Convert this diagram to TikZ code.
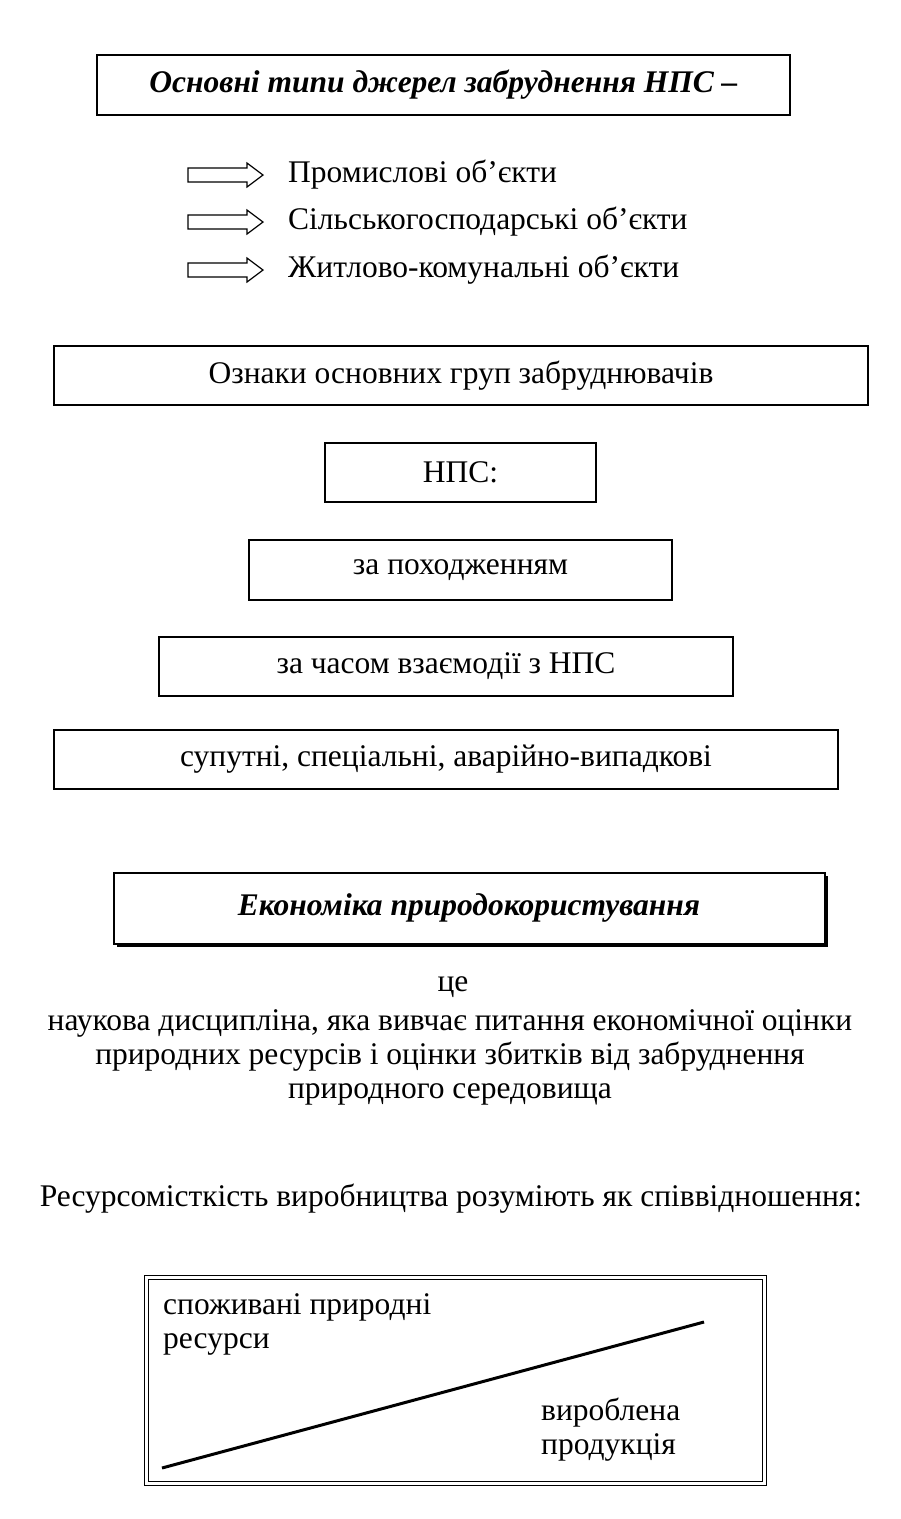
\documentclass[tikz,border=0pt]{standalone}
\usepackage{fontspec}
\setmainfont{Liberation Serif}
\usetikzlibrary{shadows}

\begin{document}
\begin{tikzpicture}[x=1pt,y=-1pt,
      txt/.style={font=\fontsize{31.5}{34}\selectfont,inner sep=0pt},
      frame/.style={txt,draw=black,line width=1.3pt,fill=white},
      hollow/.style={draw=black,line width=1.2pt,fill=white},
    ]
    \useasboundingbox (0,0) rectangle (901,1519);

    % sources
    \node[frame,minimum width=693,minimum height=60,font=\fontsize{31.5}{34}\selectfont\bfseries\itshape]
         (types) at (443.5,85) {Основні типи джерел забруднення НПС –};
    \foreach \yy/\nm/\lbl in {175/ind/Промислові об’єкти,
                              222/agr/Сільськогосподарські об’єкти,
                              270/hou/Житлово-комунальні об’єкти}{
      \draw[hollow] (188,{\yy-7}) -- (247,{\yy-7}) -- (247,{\yy-12}) -- (263,\yy)
                    -- (247,{\yy+12}) -- (247,{\yy+7}) -- (188,{\yy+7}) -- cycle;
      \node[txt,anchor=west] (\nm) at (288,\yy) {\lbl};
    }

    % groups of polluters
    \node[frame,minimum width=814,minimum height=59] (signs) at (461,375.5) {Ознаки основних груп забруднювачів};
    \node[frame,minimum width=271,minimum height=59] (nps)   at (460.5,472.5) {НПС:};
    \node[frame,minimum width=423,minimum height=60] (orig)  at (460.5,570) {за походженням};
    \node[frame,minimum width=574,minimum height=59] (time)  at (446,666.5) {за часом взаємодії з НПС};
    \node[frame,minimum width=784,minimum height=59] (kinds) at (446,759.5) {супутні, спеціальні, аварійно-випадкові};

    % economics
    \node[frame,line width=2pt,minimum width=711,minimum height=71,
          drop shadow={shadow xshift=3.5pt,shadow yshift=-3.5pt,fill=black,opacity=1},
          font=\fontsize{31.5}{34}\selectfont\bfseries\itshape]
         (econ) at (469,908) {Економіка природокористування};
    \node[txt] (is) at (453,987) {це};
    \node[txt,align=center] (defn) at (450,1057)
         {наукова дисципліна, яка вивчає питання економічної оцінки\\
          природних ресурсів і оцінки збитків від забруднення\\
          природного середовища};

    % resource intensity
    \node[txt] (res) at (451,1199) {Ресурсомісткість виробництва розуміють як співвідношення:};
    \node[draw=black,line width=1.5pt,double=white,double distance=2.5pt,
          minimum width=618,minimum height=206,inner sep=0pt] (ratio) at (455.5,1380.5) {};
    \node[txt,align=left,anchor=north west] (cons) at (163,1293) {споживані природні\\ресурси};
    \node[txt,align=left,anchor=north west] (prod) at (541,1398) {вироблена\\продукція};
    \coordinate (lo) at (162,1468);
    \coordinate (hi) at (704,1322);
    \draw[line width=3pt] (lo) -- (hi);
  \end{tikzpicture}
\end{document}
